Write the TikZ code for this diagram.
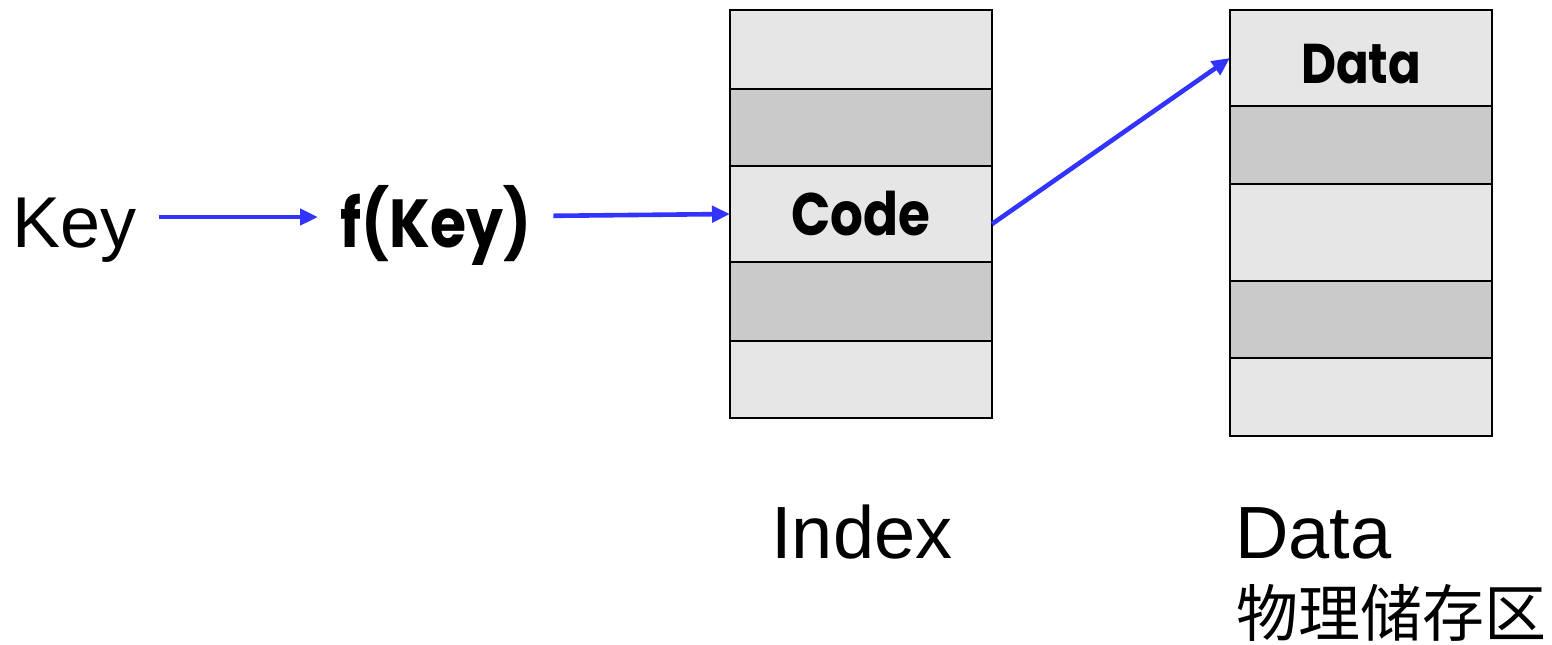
\documentclass[tikz,border=0pt]{standalone}
\usepackage{fontspec}
\setmainfont{Liberation Sans}
\newfontfamily\geofont{Poppins}[FakeStretch=0.86]
\newfontfamily\cjk{Noto Sans CJK SC}
\usetikzlibrary{positioning}
\usetikzlibrary{arrows.meta}
\definecolor{lightgrey}{RGB}{230,230,230}
\definecolor{darkgrey}{RGB}{202,202,202}
\definecolor{linkblue}{RGB}{51,51,255}
\tikzset{
    cell/.style = {rectangle,draw,line width=1.1pt,minimum width=131pt,inner sep=0pt,outer sep=0pt},
    lightcell/.style = {cell,fill=lightgrey},
    darkcell/.style = {cell,fill=darkgrey},
    celltext/.style = {font=\geofont\bfseries\fontsize{30}{34}\selectfont},
    flowtext/.style = {inner xsep=11pt,inner ysep=0pt,text height=30pt,text depth=0pt,anchor=west},
    caption/.style = {inner sep=0pt,anchor=base west,font=\fontsize{37}{40}\selectfont},
    link/.style = {draw=linkblue,line width=2.3pt,-{Triangle[length=9pt,width=8pt]}}}

\begin{document}
\begin{tikzpicture}[x=0.5pt,y=-0.5pt]
        \useasboundingbox (0,0) rectangle (1552,644);
        % index table
        \node[lightcell,minimum height=39.5pt] (i1) at (861,49.5) {};
        \node[darkcell,minimum height=38.5pt,below=0pt of i1] (i2) {};
        \node[lightcell,minimum height=48pt,below=0pt of i2,celltext] (i3) {Code};
        \node[darkcell,minimum height=39.5pt,below=0pt of i3] (i4) {};
        \node[lightcell,minimum height=38.5pt,below=0pt of i4] (i5) {};
        % data table
        \node[lightcell,minimum height=48pt,celltext,font=\geofont\bfseries\fontsize{28}{30}\selectfont,text height=25pt,text depth=0pt] (d1) at (1361,58) {Data};
        \node[darkcell,minimum height=39pt,below=0pt of d1] (d2) {};
        \node[lightcell,minimum height=48.5pt,below=0pt of d2] (d3) {};
        \node[darkcell,minimum height=38.5pt,below=0pt of d3] (d4) {};
        \node[lightcell,minimum height=39pt,below=0pt of d4] (d5) {};
        % key and hash
        \node[flowtext,font=\fontsize{36}{40}\selectfont] (key) at (-10,217) {Key};
        \node[flowtext,font=\geofont\bfseries\fontsize{34}{38}\selectfont] (fkey) at (318,217) {f(Key)};
        \draw[link] (key) -- (fkey);
        \draw[link] (fkey) -- (i3.west);
        \draw[link] ([yshift=-5pt]i3.east) -- (d1.west);
        % captions
        \node[caption] (idxlabel) at (771,558) {Index};
        \node[caption] (datalabel) at (1235,558) {Data};
        \node[inner sep=0pt,anchor=west,font=\cjk\fontsize{31}{34}\selectfont] (cjklabel) at (1236,613) {物理储存区};
\end{tikzpicture}
\end{document}
